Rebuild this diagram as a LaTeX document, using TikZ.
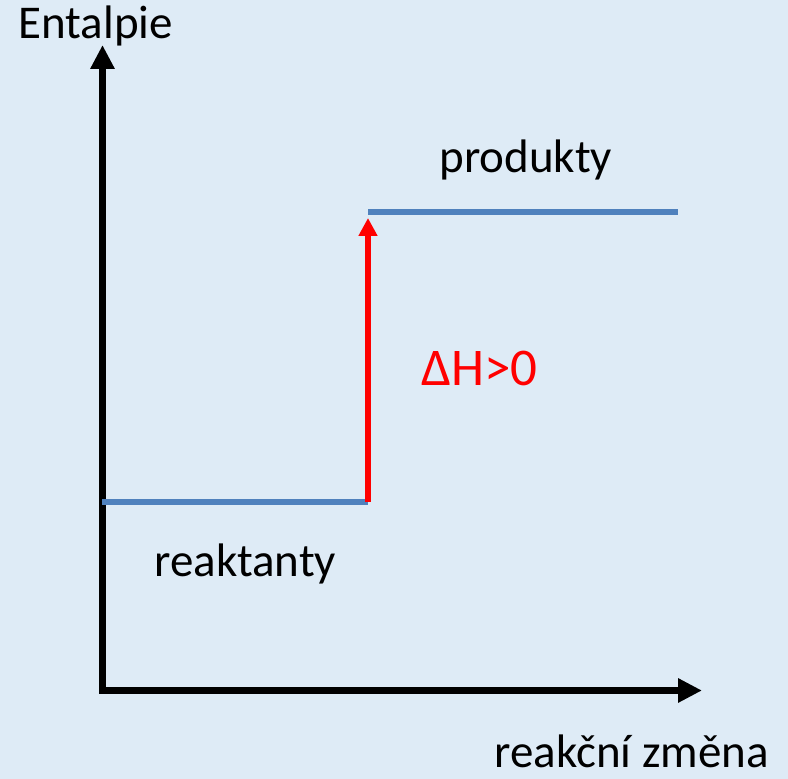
\documentclass[tikz,border=0pt]{standalone}
\usepackage{fontspec}
\setmainfont{Carlito}
\usetikzlibrary{arrows.meta}
\definecolor{bgblue}{RGB}{222,235,246}
\definecolor{levelblue}{RGB}{79,129,189}
\begin{document}
\begin{tikzpicture}[x=0.5pt, y=-0.5pt,
    axis/.style={line width=3.5pt, -{Triangle[length=12pt, width=11.5pt]}},
    level/.style={line width=3pt, draw=levelblue},
    lab/.style={anchor=base west, inner sep=0pt, font=\fontsize{23.5}{28}\selectfont}]
      \fill[bgblue] (0,0) rectangle (788,779);
      \useasboundingbox (0,0) rectangle (788,779);

      % axes
      \coordinate (O) at (102.5,690.5);
      \coordinate (ytop) at (102.5,45);
      \coordinate (xend) at (702,690.5);
      \draw[axis, {Triangle[length=12pt, width=11.5pt]}-{Triangle[length=12pt, width=11.5pt]}] (ytop) -- (O) -- (xend);

      % enthalpy levels
      \coordinate (r1) at (102,502);
      \coordinate (r2) at (368,502);
      \coordinate (p1) at (368,212.5);
      \coordinate (p2) at (678,212.5);
      \coordinate (dHtop) at (368,218);
      \draw[level] (r1) -- (r2);
      \draw[level] (p1) -- (p2);
      \draw[red, line width=3pt, -{Triangle[length=9pt, width=9pt]}] (r2) -- (dHtop);

      \node[lab] (ent) at (18,39) {Entalpie};
      \node[lab] (prod) at (439,173) {produkty};
      \node[lab] (reakt) at (154,577) {reaktanty};
      \node[lab] (zmena) at (494,768) {reakční změna};
      \node[lab, text=red, font=\fontsize{26.5}{31}\selectfont] (dH) at (421,386) {ΔH>0};
    \end{tikzpicture}
\end{document}
